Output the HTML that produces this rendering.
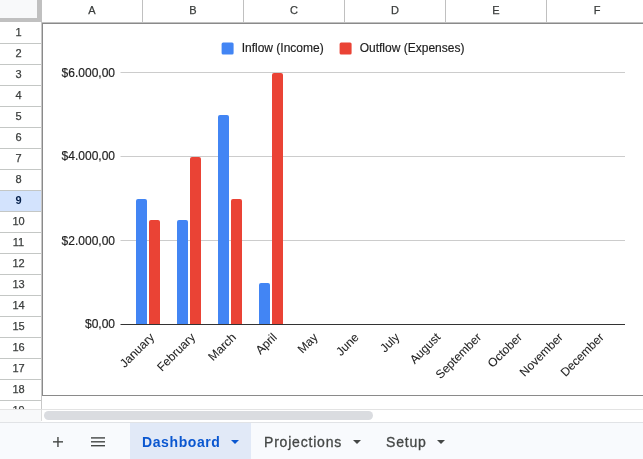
<!DOCTYPE html>
<html><head><meta charset="utf-8"><title>Dashboard</title>
<style>
html,body{margin:0;padding:0;}
body{width:643px;height:459px;overflow:hidden;background:#fff;position:relative;font-family:"Liberation Sans",Arial,sans-serif;}
.abs{position:absolute;}
.corner{position:absolute;left:0;top:0;width:37px;height:18px;background:#f8f9fa;border-right:5px solid #c0c0c0;border-bottom:4px solid #c0c0c0;}
.ch{position:absolute;top:0;width:100px;height:22px;line-height:21px;text-align:center;font-size:11px;color:#3a3d3c;-webkit-text-stroke:0.25px #3a3d3c;border-right:1px solid #c0c0c0;}
.hline{position:absolute;left:42px;top:22px;width:601px;height:1px;background:#c0c0c0;}
.rh{position:absolute;left:0;width:41px;height:20px;line-height:18px;text-align:center;font-size:11px;color:#3a3d3c;-webkit-text-stroke:0.25px #3a3d3c;border-bottom:1px solid #c4c7c5;padding-right:0;box-sizing:content-box;text-indent:-4px;}
.rh.sel{background:#d3e3fd;color:#041e49;font-weight:bold;-webkit-text-stroke:0;}
.vline{position:absolute;left:41px;top:22px;width:1px;height:387px;background:#c8c8c8;}
.grid{position:absolute;left:0;top:0;width:643px;height:409px;overflow:hidden;}
.chart{position:absolute;left:42px;top:23px;width:700px;height:371px;border:1px solid #8a8a8a;background:#fff;box-sizing:content-box;}
svg{position:absolute;left:0;top:0;}
.ax{font-family:"Liberation Sans",Arial,sans-serif;font-size:12px;fill:#1f1f1f;stroke:#1f1f1f;stroke-width:0.18px;}
.rot{stroke-width:0.08px;}
.scroll{position:absolute;left:0;top:409px;width:643px;height:13px;background:#fff;border-top:1px solid #e3e3e3;box-sizing:border-box;}
.thumb{position:absolute;left:44px;top:411px;width:329px;height:9px;border-radius:5px;background:#dadce0;}
.bar{position:absolute;left:0;top:422px;width:643px;height:37px;background:#f8fafd;border-top:1px solid #e1e3e6;box-sizing:border-box;}
.tab{position:absolute;top:423px;height:36px;line-height:39px;font-size:14px;color:#444746;letter-spacing:0.8px;white-space:nowrap;-webkit-text-stroke:0.3px #444746;}
.tab.act{left:130px;width:120.5px;background:#e1e9f7;color:#0b57d0;font-weight:bold;letter-spacing:0.6px;-webkit-text-stroke:0;}
.tab span{position:absolute;top:0;}
.arr{position:absolute;width:0;height:0;border-left:4px solid transparent;border-right:4px solid transparent;border-top:4px solid #444746;top:440px;}
.plus{position:absolute;background:#444746;}
</style></head><body>
<div class="grid">
<div class="ch" style="left:42px">A</div>
<div class="ch" style="left:143px">B</div>
<div class="ch" style="left:244px">C</div>
<div class="ch" style="left:345px">D</div>
<div class="ch" style="left:446px">E</div>
<div class="ch" style="left:547px">F</div>
<div class="hline"></div>
<div class="rh" style="top:23px">1</div>
<div class="rh" style="top:44px">2</div>
<div class="rh" style="top:65px">3</div>
<div class="rh" style="top:86px">4</div>
<div class="rh" style="top:107px">5</div>
<div class="rh" style="top:128px">6</div>
<div class="rh" style="top:149px">7</div>
<div class="rh" style="top:170px">8</div>
<div class="rh sel" style="top:191px">9</div>
<div class="rh" style="top:212px">10</div>
<div class="rh" style="top:233px">11</div>
<div class="rh" style="top:254px">12</div>
<div class="rh" style="top:275px">13</div>
<div class="rh" style="top:296px">14</div>
<div class="rh" style="top:317px">15</div>
<div class="rh" style="top:338px">16</div>
<div class="rh" style="top:359px">17</div>
<div class="rh" style="top:380px">18</div>
<div class="rh" style="top:401px">19</div>
<div class="corner"></div>
<div class="chart"></div>
<div class="vline"></div>
<svg width="643" height="409" viewBox="0 0 643 409">
<rect x="120.5" y="72.0" width="504.5" height="1" fill="#cccccc"/>
<text x="115" y="76.8" text-anchor="end" class="ax">$6.000,00</text>
<rect x="120.5" y="156.0" width="504.5" height="1" fill="#cccccc"/>
<text x="115" y="160.3" text-anchor="end" class="ax">$4.000,00</text>
<rect x="120.5" y="240.0" width="504.5" height="1" fill="#cccccc"/>
<text x="115" y="244.5" text-anchor="end" class="ax">$2.000,00</text>
<text x="115" y="328.0" text-anchor="end" class="ax">$0,00</text>
<path d="M136,324 V201.0 Q136,199.0 138,199.0 H145 Q147,199.0 147,201.0 V324 Z" fill="#4285f4"/>
<path d="M149,324 V222.0 Q149,220.0 151,220.0 H158 Q160,220.0 160,222.0 V324 Z" fill="#ea4335"/>
<path d="M177,324 V222.0 Q177,220.0 179,220.0 H186 Q188,220.0 188,222.0 V324 Z" fill="#4285f4"/>
<path d="M190,324 V159.0 Q190,157.0 192,157.0 H199 Q201,157.0 201,159.0 V324 Z" fill="#ea4335"/>
<path d="M218,324 V117.0 Q218,115.0 220,115.0 H227 Q229,115.0 229,117.0 V324 Z" fill="#4285f4"/>
<path d="M231,324 V201.0 Q231,199.0 233,199.0 H240 Q242,199.0 242,201.0 V324 Z" fill="#ea4335"/>
<path d="M259,324 V285.0 Q259,283.0 261,283.0 H268 Q270,283.0 270,285.0 V324 Z" fill="#4285f4"/>
<path d="M272,324 V75.0 Q272,73.0 274,73.0 H281 Q283,73.0 283,75.0 V324 Z" fill="#ea4335"/>
<rect x="120.5" y="324" width="504.5" height="1" fill="#333333"/>
<text x="155.0" y="338" text-anchor="end" transform="rotate(-45 155.0 338)" class="ax rot">January</text>
<text x="195.9" y="338" text-anchor="end" transform="rotate(-45 195.9 338)" class="ax rot">February</text>
<text x="236.7" y="338" text-anchor="end" transform="rotate(-45 236.7 338)" class="ax rot">March</text>
<text x="277.6" y="338" text-anchor="end" transform="rotate(-45 277.6 338)" class="ax rot">April</text>
<text x="318.5" y="338" text-anchor="end" transform="rotate(-45 318.5 338)" class="ax rot">May</text>
<text x="359.4" y="338" text-anchor="end" transform="rotate(-45 359.4 338)" class="ax rot">June</text>
<text x="400.2" y="338" text-anchor="end" transform="rotate(-45 400.2 338)" class="ax rot">July</text>
<text x="441.1" y="338" text-anchor="end" transform="rotate(-45 441.1 338)" class="ax rot">August</text>
<text x="482.0" y="338" text-anchor="end" transform="rotate(-45 482.0 338)" class="ax rot">September</text>
<text x="522.8" y="338" text-anchor="end" transform="rotate(-45 522.8 338)" class="ax rot">October</text>
<text x="563.7" y="338" text-anchor="end" transform="rotate(-45 563.7 338)" class="ax rot">November</text>
<text x="604.6" y="338" text-anchor="end" transform="rotate(-45 604.6 338)" class="ax rot">December</text>
<rect x="221.6" y="42.6" width="12" height="12" rx="1.5" fill="#4285f4"/>
<text x="241.7" y="52.3" class="ax">Inflow (Income)</text>
<rect x="339.6" y="42.6" width="12" height="12" rx="1.5" fill="#ea4335"/>
<text x="359.7" y="52.3" class="ax">Outflow (Expenses)</text>
</svg>
</div>
<div class="scroll"><div style="position:absolute;left:0;top:0;width:41px;height:12px;background:#f8f9fa"></div></div>
<div class="abs" style="left:41px;top:409px;width:1px;height:12px;background:#dcdcdc"></div>
<div class="thumb"></div>
<div class="bar"></div>
<svg width="643" height="37" viewBox="0 422 643 37" style="top:422px">
<g fill="#444746">
<rect x="57.25" y="437" width="1.4" height="10"/>
<rect x="53" y="441.15" width="10" height="1.4"/>
<rect x="91" y="437.2" width="14" height="1.4"/>
<rect x="91" y="441.1" width="14" height="1.4"/>
<rect x="91" y="445" width="14" height="1.4"/>
</g>
</svg>
<div class="tab act"><span style="left:12px">Dashboard</span></div>
<div class="arr" style="left:231px;border-top-color:#0b57d0"></div>
<div class="tab" style="left:264px">Projections</div>
<div class="arr" style="left:353px"></div>
<div class="tab" style="left:386px">Setup</div>
<div class="arr" style="left:437px"></div>
</body></html>
